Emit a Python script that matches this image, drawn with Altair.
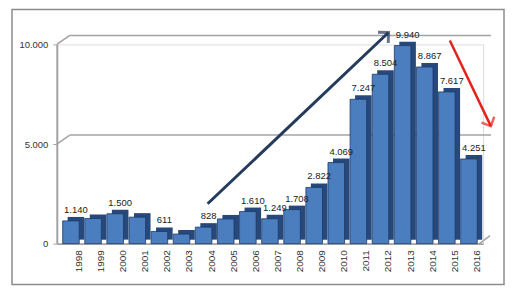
import altair as alt
import pandas as pd

years = [str(y) for y in range(1998, 2017)]
values = [1140, 1260, 1500, 1330, 611, 480, 828, 1240, 1610, 1249, 1708, 2822,
          4069, 7247, 8504, 9940, 8867, 7617, 4251]
show_label = [True, False, True, False, True, False, True, False, True, True,
              True, True, True, True, True, True, True, True, True]
grid_values = [5000, 10000]

# arrows: start year/value -> end year/value
up_arrow = {"year": ["2004"], "value": [2000], "year2": ["2012"], "value2": [10600]}
down_arrow = {"year": ["2015"], "value": [10200], "year2": ["2016"], "value2": [5900]}


def fmt(v):
    return f"{v:,}".replace(",", ".")


df = pd.DataFrame({
    "year": years,
    "value": values,
    "label": [fmt(v) if s else "" for v, s in zip(values, show_label)],
})
gdf = pd.DataFrame({"value": grid_values})
up_df = pd.DataFrame(up_arrow)
down_df = pd.DataFrame(down_arrow)
frame_df = pd.DataFrame({"f": [0]})

FONT = "Liberation Sans"
GRAY = "#a3a3a3"

x_enc = alt.X(
    "year:O",
    scale=alt.Scale(paddingInner=0.25, paddingOuter=0.265),
    axis=alt.Axis(title=None, labelAngle=-90, labelAlign="right",
                  labelBaseline="middle", labelOffset=8, labelPadding=6,
                  ticks=False, domainColor=GRAY, domainWidth=2,
                  labelFontSize=10, labelColor="#333333", labelFont=FONT),
)
y_enc = alt.Y(
    "value:Q",
    scale=alt.Scale(domain=[0, 10000], nice=False),
    axis=alt.Axis(title=None, values=[0, 5000, 10000], grid=False,
                  labelExpr="replace(format(datum.value, ','), ',', '.')",
                  ticks=True, tickSize=4, tickColor=GRAY, domainColor=GRAY,
                  domainWidth=2, labelPadding=5, labelFontSize=9.5,
                  labelColor="#333333", labelFont=FONT),
)

frame = alt.Chart(frame_df).mark_rect(
    fillOpacity=0, stroke="#8c8c8c", strokeWidth=1.5
).encode(x=alt.value(-45), x2=alt.value(449), y=alt.value(-35), y2=alt.value(241))

grid = alt.Chart(gdf).mark_rule(color=GRAY, strokeWidth=1.5, yOffset=-9).encode(
    y=alt.Y("value:Q"), x=alt.value(13), x2=alt.value(436)
)
grid_diag = alt.Chart(gdf).mark_rule(color=GRAY, strokeWidth=1.5, y2Offset=-9).encode(
    y=alt.Y("value:Q"), y2=alt.Y2("value"), x=alt.value(0), x2=alt.value(13)
)
floor_diag = alt.Chart(frame_df).mark_rule(color=GRAY, strokeWidth=1.5).encode(
    x=alt.value(423), x2=alt.value(435), y=alt.value(201), y2=alt.value(192)
)

shadow = alt.Chart(df).mark_bar(
    color="#27487a", xOffset=5, yOffset=-4, y2Offset=-4
).encode(x=x_enc, y=y_enc)
bars = alt.Chart(df).mark_bar(
    color="#4a7ebf", stroke="#1d3966", strokeWidth=0.8
).encode(x=x_enc, y=y_enc)
text = alt.Chart(df).mark_text(
    dx=5, dy=-6, baseline="bottom", fontSize=9.5, font=FONT, color="#222222"
).encode(x=x_enc, y=y_enc, text="label:N")

up_line = alt.Chart(up_df).mark_rule(
    color="#253b5c", strokeWidth=3, xOffset=4, x2Offset=8
).encode(x="year:O", x2="year2", y="value:Q", y2="value2")
up_head = alt.Chart(up_df).mark_point(
    shape="M-1,1L0,0L1,1", filled=False, color="#253b5c", strokeWidth=3,
    size=220, angle=46, xOffset=8
).encode(x="year2:O", y="value2:Q")

down_line = alt.Chart(down_df).mark_rule(
    color="#e3231b", strokeWidth=2.5, xOffset=3, x2Offset=22
).encode(x="year:O", x2="year2", y="value:Q", y2="value2")
down_head = alt.Chart(down_df).mark_point(
    shape="M-1,1L0,0L1,1", filled=False, color="#e3231b", strokeWidth=2.5,
    size=200, angle=155, xOffset=22
).encode(x="year2:O", y="value2:Q")

chart = alt.layer(
    frame, grid, grid_diag, floor_diag, shadow, bars, text,
    up_line, up_head, down_line, down_head
).properties(
    width=428, height=200,
    padding={"left": 49, "top": 36, "right": 23, "bottom": 48},
    autosize=alt.AutoSizeParams(type="none"),
).configure_view(stroke=None).configure(background="white")

chart.save("out.html", embed_options={"renderer": "svg", "actions": False})
